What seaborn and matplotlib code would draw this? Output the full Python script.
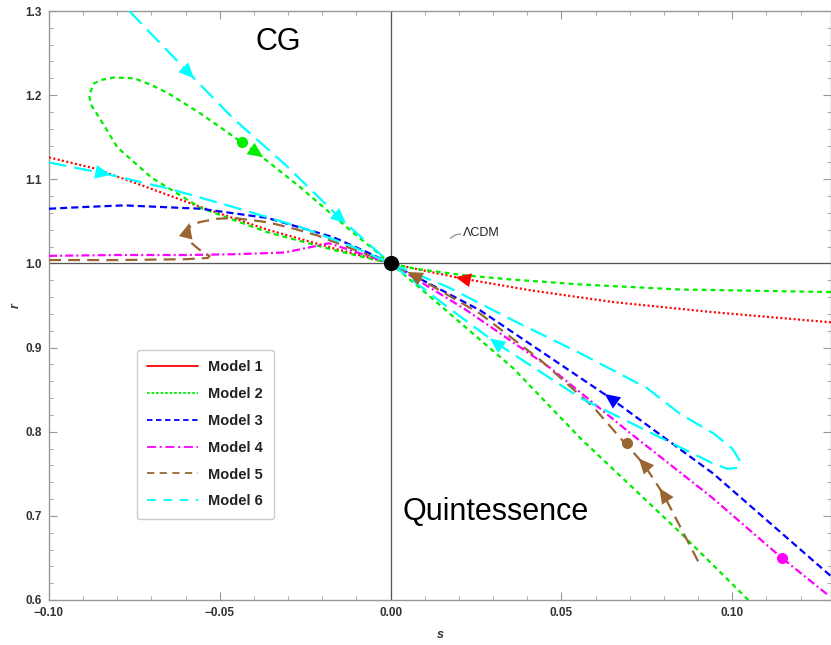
import numpy as np
import matplotlib
matplotlib.use("Agg")
import matplotlib.pyplot as plt
from matplotlib.lines import Line2D
from matplotlib.ticker import MultipleLocator
import seaborn as sns

# ---- trajectories in the (s, r) plane, each ordered towards the fixed point (0, 1) ----
m1_s = [-0.100, -0.0868, -0.075, -0.0556, -0.036, -0.0167, 0.0]
m1_r = [1.126, 1.113, 1.096, 1.067, 1.040, 1.018, 1.0]
m1b_s = [0.1289, 0.0945, 0.0653, 0.041, 0.021, 0.008, 0.0]
m1b_r = [0.930, 0.942, 0.954, 0.968, 0.982, 0.993, 1.0]

m2a_s = [0.1289, 0.0848, 0.0556, 0.035, 0.0213, 0.0067, 0.0]
m2a_r = [0.966, 0.969, 0.975, 0.981, 0.986, 0.994, 1.0]
m2b_s = [0.0, -0.0167, -0.036, -0.0556, -0.070, -0.080, -0.0848, -0.0876, -0.0883,
         -0.0868, -0.0848, -0.081, -0.075, -0.070, -0.065, -0.0556, -0.0436, -0.039,
         -0.0263, -0.0117, 0.0]
m2b_r = [1.0, 1.016, 1.037, 1.066, 1.102, 1.138, 1.170, 1.188, 1.200,
         1.214, 1.218, 1.221, 1.220, 1.212, 1.202, 1.178, 1.144, 1.131,
         1.090, 1.039, 1.0]
m2c_s = [0.1047, 0.0848, 0.0556, 0.036, 0.0117, 0.0]
m2c_r = [0.600, 0.680, 0.792, 0.875, 0.960, 1.0]

m3a_s = [-0.100, -0.090, -0.078, -0.0556, -0.036, -0.0167, -0.0067, 0.0]
m3a_r = [1.065, 1.067, 1.069, 1.065, 1.054, 1.031, 1.013, 1.0]
m3b_s = [0.1287, 0.0945, 0.0643, 0.0263, 0.0]
m3b_r = [0.629, 0.750, 0.840, 0.944, 1.0]

m4a_s = [-0.100, -0.080, -0.060, -0.045, -0.031, -0.025, -0.018, -0.009, 0.0]
m4a_r = [1.009, 1.010, 1.010, 1.011, 1.013, 1.018, 1.024, 1.012, 1.0]
m4b_s = [0.1277, 0.1145, 0.094, 0.0693, 0.047, 0.022, 0.0]
m4b_r = [0.607, 0.650, 0.722, 0.801, 0.875, 0.945, 1.0]

m5a_s = [-0.100, -0.080, -0.060, -0.0535, -0.0530, -0.0545, -0.0565, -0.0585, -0.0595,
         -0.0590, -0.0560, -0.0510, -0.046, -0.036, -0.028, -0.0213, -0.0117, -0.005, 0.0]
m5a_r = [1.004, 1.004, 1.005, 1.0065, 1.009, 1.012, 1.018, 1.025, 1.035,
         1.043, 1.049, 1.053, 1.054, 1.049, 1.041, 1.033, 1.018, 1.008, 1.0]
m5b_s = [0.090, 0.0798, 0.074, 0.068, 0.0594, 0.0439, 0.0263, 0.0067, 0.0]
m5b_r = [0.646, 0.726, 0.762, 0.789, 0.829, 0.885, 0.940, 0.986, 1.0]

m6a_s = [-0.100, -0.084, -0.065, -0.046, -0.0263, -0.0117, 0.0]
m6a_r = [1.120, 1.107, 1.089, 1.067, 1.043, 1.021, 1.0]
m6b_s = [-0.0765, -0.059, -0.046, -0.031, -0.0146, 0.0]
m6b_r = [1.300, 1.226, 1.172, 1.118, 1.053, 1.0]
m6c_s = [0.0, 0.0167, 0.036, 0.0556, 0.075, 0.0848, 0.0945, 0.100, 0.1023, 0.1015,
         0.0985, 0.0945, 0.075, 0.0556, 0.0307, 0.0167, 0.0]
m6c_r = [1.0, 0.972, 0.932, 0.893, 0.852, 0.821, 0.798, 0.780, 0.765, 0.757,
         0.756, 0.762, 0.801, 0.840, 0.906, 0.948, 1.0]

# marked points on trajectories
dot_s = [-0.0436, 0.1145, 0.0693]
dot_r = [1.144, 0.650, 0.787]

labels = ["Model 1", "Model 2", "Model 3", "Model 4", "Model 5", "Model 6"]
colors = ["#ff0000", "#00ee00", "#0000ff", "#ff00ff", "#996633", "#00ffff"]

sns.set_theme(style="ticks")
plt.rcParams["font.family"] = ["Liberation Sans", "DejaVu Sans"]

fig = plt.figure(figsize=(8.31, 6.45), dpi=100)
ax = fig.add_axes([49 / 831, 45 / 645, 782 / 831, 589 / 645])
ax.set_xlim(-0.10, 0.1289)
ax.set_ylim(0.6, 1.3)

lw = 1.6
styles = [(0, (0.9, 1.1)), (0, (2.2, 1.8)), (0, (3.2, 1.8)),
          (0, (3.6, 1.4, 0.9, 1.4)), (0, (5.4, 3.2)), (0, (8.0, 3.6))]

paths = {
    0: [(m1_s, m1_r), (m1b_s, m1b_r)],
    1: [(m2a_s, m2a_r), (m2b_s, m2b_r), (m2c_s, m2c_r)],
    2: [(m3a_s, m3a_r), (m3b_s, m3b_r)],
    3: [(m4a_s, m4a_r), (m4b_s, m4b_r)],
    4: [(m5a_s, m5a_r), (m5b_s, m5b_r)],
    5: [(m6a_s, m6a_r), (m6b_s, m6b_r), (m6c_s, m6c_r)],
}

# reference axes through the fixed point
ax.axhline(1.0, color="#555555", lw=0.9, zorder=1)
ax.axvline(0.0, color="#555555", lw=0.9, zorder=1)

for k in range(6):
    for xs, ys in paths[k]:
        sns.lineplot(x=xs, y=ys, sort=False, estimator=None, ax=ax, color=colors[k],
                     lw=lw, linestyle=styles[k], dash_capstyle="butt", zorder=3)


def arrow_on(ax, xs, ys, px, py, color):
    pts = ax.transData.transform(np.column_stack([xs, ys]))
    p = ax.transData.transform((px, py))
    seg_mid = 0.5 * (pts[1:] + pts[:-1])
    i = int(np.argmin(np.hypot(*(seg_mid - p).T)))
    v = pts[i + 1] - pts[i]
    v = v / np.hypot(*v)
    inv = ax.transData.inverted()
    tip = inv.transform(p + v * 7)
    tail = inv.transform(p - v * 9)
    ax.annotate("", xy=tip, xytext=tail,
                arrowprops=dict(arrowstyle="-|>,head_length=1.1,head_width=0.5",
                                color=color, lw=0, shrinkA=0, shrinkB=0,
                                mutation_scale=10), zorder=5)


arrows = [
    (0, 1, 0.021, 0.982),
    (1, 1, -0.039, 1.131),
    (2, 1, 0.0643, 0.840),
    (4, 0, -0.0594, 1.040),
    (4, 1, 0.0067, 0.986),
    (4, 1, 0.074, 0.762),
    (4, 1, 0.0798, 0.726),
    (5, 0, -0.084, 1.107),
    (5, 1, -0.059, 1.226),
    (5, 1, -0.0146, 1.053),
    (5, 2, 0.0307, 0.906),
]
for k, j, px, py in arrows:
    xs, ys = paths[k][j]
    arrow_on(ax, xs, ys, px, py, colors[k])

dot_colors = [colors[1], colors[3], colors[4]]
for s, r, c in zip(dot_s, dot_r, dot_colors):
    ax.plot(s, r, "o", color=c, ms=8, mec="none", zorder=6)
ax.plot(0.0, 1.0, "o", color="black", ms=11, mec="none", zorder=7)

# region labels
ax.text(-0.033, 1.263, "CG", fontsize=22, ha="center", va="center", color="black")
ax.text(0.0034, 0.704, "Quintessence", fontsize=22, ha="left", va="center", color="black")
ax.text(0.0213, 1.036, "ΛCDM", fontsize=9, ha="left", va="center", color="#222222",
        family=["Liberation Sans", "DejaVu Sans"])
ax.plot([0.0175, 0.019, 0.0205], [1.030, 1.034, 1.035], color="#999999", lw=1, zorder=4)

# frame and ticks
for sp in ax.spines.values():
    sp.set_visible(True)
    sp.set_color("#999999")
    sp.set_linewidth(1.0)
ax.xaxis.set_major_locator(MultipleLocator(0.05))
ax.xaxis.set_minor_locator(MultipleLocator(0.01))
ax.yaxis.set_major_locator(MultipleLocator(0.1))
ax.yaxis.set_minor_locator(MultipleLocator(0.02))
ax.tick_params(which="both", direction="in", top=True, right=True, color="#999999")
ax.tick_params(which="major", length=6, width=0.8, labelsize=8.5, pad=5)
ax.tick_params(which="minor", length=3, width=0.6)
ax.set_xticks([-0.10, -0.05, 0.0, 0.05, 0.10])
ax.set_xticklabels(["−0.10", "−0.05", "0.00", "0.05", "0.10"])
ax.set_yticks([0.6, 0.7, 0.8, 0.9, 1.0, 1.1, 1.2, 1.3])
ax.set_yticklabels(["0.6", "0.7", "0.8", "0.9", "1.0", "1.1", "1.2", "1.3"])
for t in ax.get_xticklabels() + ax.get_yticklabels():
    t.set_fontweight("bold")
    t.set_color("#333333")
ax.set_xlabel("s", fontsize=9, fontstyle="italic", fontweight="bold", color="#333333", labelpad=7)
ax.set_ylabel("r", fontsize=9, fontstyle="italic", fontweight="bold", color="#333333", labelpad=3)

# legend
handle_styles = ["-", (0, (1.5, 1.0)), (0, (3, 2)), (0, (5, 2, 1.2, 2)), (0, (4, 3)), (0, (5, 4))]
handles = [Line2D([0], [0], color=c, lw=1.3, linestyle=ls)
           for c, ls in zip(colors, handle_styles)]
leg = ax.legend(handles, labels, loc="upper left", bbox_to_anchor=(0.1125, 0.4245),
                prop={"weight": "bold", "size": 10.5}, handlelength=3.5,
                handletextpad=0.7, labelspacing=0.88, borderpad=0.7, borderaxespad=0,
                frameon=True, fancybox=True, framealpha=1)
leg.get_frame().set_edgecolor("#cccccc")
leg.get_frame().set_linewidth(1.0)
for t in leg.get_texts():
    t.set_color("#222222")

fig.savefig("out.png", dpi=100)
